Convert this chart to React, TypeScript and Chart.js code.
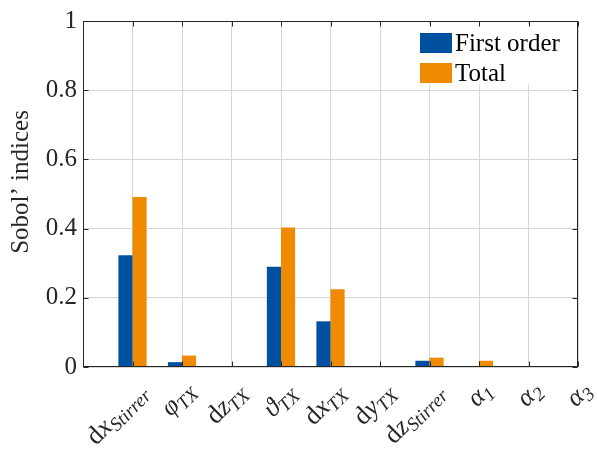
import React, { useEffect, useRef } from 'react';
import { Chart, registerables } from 'chart.js';

Chart.register(...registerables);

// ---- data ----
const categories = ['dx_Stirrer', 'φ_TX', 'dz_TX', 'ϑ_TX', 'dx_TX', 'dy_TX', 'dz_Stirrer', 'α_1', 'α_2', 'α_3'];
const firstOrder = [0.323, 0.014, 0, 0.29, 0.132, 0, 0.018, 0, 0, 0];
const totalOrder = [0.491, 0.033, 0, 0.403, 0.225, 0, 0.027, 0.018, 0, 0];
const yTicks = [0, 0.2, 0.4, 0.6, 0.8, 1];
const seriesNames = ['First order', 'Total'];
const yTitle = 'Sobol’ indices';

const seriesColors = ['#0050A0', '#F08A00'];
const SERIF = '"Liberation Serif", "DejaVu Serif", serif';
const AXIS = '#262626';
const GRID = '#d6d6d6';
const ANG = (45 * Math.PI) / 180;

function drawMathLabel(ctx: CanvasRenderingContext2D, label: string, x: number, y: number) {
  const [main, sub] = label.split('_');
  const parts: { t: string; font: string; dy: number; w?: number }[] = [];
  for (const ch of main) {
    parts.push({ t: ch, font: ch === 'd' ? `26px ${SERIF}` : `italic 26px ${SERIF}`, dy: 0 });
  }
  if (sub) parts.push({ t: sub, font: `italic 19px ${SERIF}`, dy: 5 });
  let w = 0;
  let topInk = 0;
  let botInk = 0;
  for (const p of parts) {
    ctx.font = p.font;
    const m = ctx.measureText(p.t);
    p.w = m.width;
    w += p.w;
    topInk = Math.min(topInk, p.dy - m.actualBoundingBoxAscent);
    botInk = Math.max(botInk, p.dy + m.actualBoundingBoxDescent);
  }
  const base = -(topInk + botInk) / 2;
  ctx.save();
  ctx.translate(x, y);
  ctx.rotate(-ANG);
  ctx.textAlign = 'left';
  ctx.textBaseline = 'alphabetic';
  ctx.fillStyle = AXIS;
  let cx = -w;
  for (const p of parts) {
    ctx.font = p.font;
    ctx.fillText(p.t, cx, base + p.dy);
    cx += p.w || 0;
  }
  ctx.restore();
}

const decorPlugin = {
  id: 'decor',
  afterDatasetsDraw(chart: any) {
    const ctx: CanvasRenderingContext2D = chart.ctx;
    const { left, right, top, bottom } = chart.chartArea;
    const xs = chart.scales.x;
    const ys = chart.scales.y;

    // legend (inside, top right)
    ctx.save();
    ctx.fillStyle = '#ffffff';
    ctx.fillRect(410, 24, right - 411, 61);
    chart.data.datasets.forEach((ds: any, i: number) => {
      const yy = 33 + i * 30;
      ctx.fillStyle = ds.backgroundColor;
      ctx.fillRect(420, yy, 32, 20);
      ctx.fillStyle = '#000';
      ctx.font = `25px ${SERIF}`;
      ctx.textAlign = 'left';
      ctx.textBaseline = 'middle';
      ctx.fillText(ds.label, 455, yy + 11);
    });
    ctx.restore();

    // box and inward ticks
    ctx.save();
    ctx.strokeStyle = AXIS;
    ctx.lineWidth = 1;
    const L = Math.round(left) + 0.5;
    const R = Math.round(right) - 0.5;
    const T = Math.round(top) + 0.5;
    const B = Math.round(bottom) - 0.5;
    ctx.strokeRect(L, T, R - L, B - T);
    ctx.beginPath();
    for (let i = 0; i <= categories.length; i++) {
      const px = Math.round(xs.getPixelForValue(i)) + 0.5;
      ctx.moveTo(px, B);
      ctx.lineTo(px, B - 5);
      ctx.moveTo(px, T);
      ctx.lineTo(px, T + 5);
    }
    for (const v of yTicks) {
      const py = Math.round(ys.getPixelForValue(v)) + 0.5;
      ctx.moveTo(L, py);
      ctx.lineTo(L + 5, py);
      ctx.moveTo(R, py);
      ctx.lineTo(R - 5, py);
    }
    ctx.stroke();
    ctx.restore();
  },
  afterDraw(chart: any) {
    const ctx: CanvasRenderingContext2D = chart.ctx;
    const { top, bottom } = chart.chartArea;
    const xs = chart.scales.x;
    // x labels
    categories.forEach((c, i) => {
      const px = xs.getPixelForValue(i + 1);
      drawMathLabel(ctx, c, px + 12, bottom + 22);
    });
    // y title
    ctx.save();
    ctx.translate(21, (top + bottom) / 2 - 12);
    ctx.rotate(-Math.PI / 2);
    ctx.font = `25px ${SERIF}`;
    ctx.fillStyle = AXIS;
    ctx.textAlign = 'center';
    ctx.textBaseline = 'middle';
    ctx.fillText(yTitle, 0, 0);
    ctx.restore();
  },
};

export default function App() {
  const ref = useRef<HTMLCanvasElement>(null);
  useEffect(() => {
    if (!ref.current) return;
    const chart = new Chart(ref.current, {
      type: 'bar',
      data: {
        labels: ['', ...categories],
        datasets: [
          {
            label: seriesNames[0],
            data: [null, ...firstOrder],
            backgroundColor: seriesColors[0],
            categoryPercentage: 0.57,
            barPercentage: 1,
          },
          {
            label: seriesNames[1],
            data: [null, ...totalOrder],
            backgroundColor: seriesColors[1],
            categoryPercentage: 0.57,
            barPercentage: 1,
          },
        ],
      },
      options: {
        animation: false,
        responsive: false,
        maintainAspectRatio: false,
        layout: { padding: { top: 20, right: 19, left: 0, bottom: 0 } },
        plugins: { legend: { display: false }, tooltip: { enabled: false } },
        scales: {
          x: {
            type: 'category',
            offset: false,
            grid: { color: GRID, drawTicks: false, offset: false },
            border: { display: false },
            ticks: { display: false },
            afterFit: (s: any) => {
              s.height = 458 - 367;
            },
          },
          y: {
            min: 0,
            max: 1,
            afterBuildTicks: (s: any) => {
              s.ticks = yTicks.map((v) => ({ value: v }));
            },
            ticks: {
              font: { family: SERIF, size: 25 },
              color: AXIS,
              padding: 6,
              callback: (v: any) => String(v),
            },
            grid: { color: GRID, drawTicks: false },
            border: { display: false },
            afterFit: (s: any) => {
              s.width = 83;
            },
          },
        },
      },
      plugins: [decorPlugin],
    } as any);
    return () => chart.destroy();
  }, []);
  return (
    <div style={{ position: 'absolute', left: 0, top: 0, width: 597, height: 458 }}>
      <canvas ref={ref} width={597} height={458} />
    </div>
  );
}
